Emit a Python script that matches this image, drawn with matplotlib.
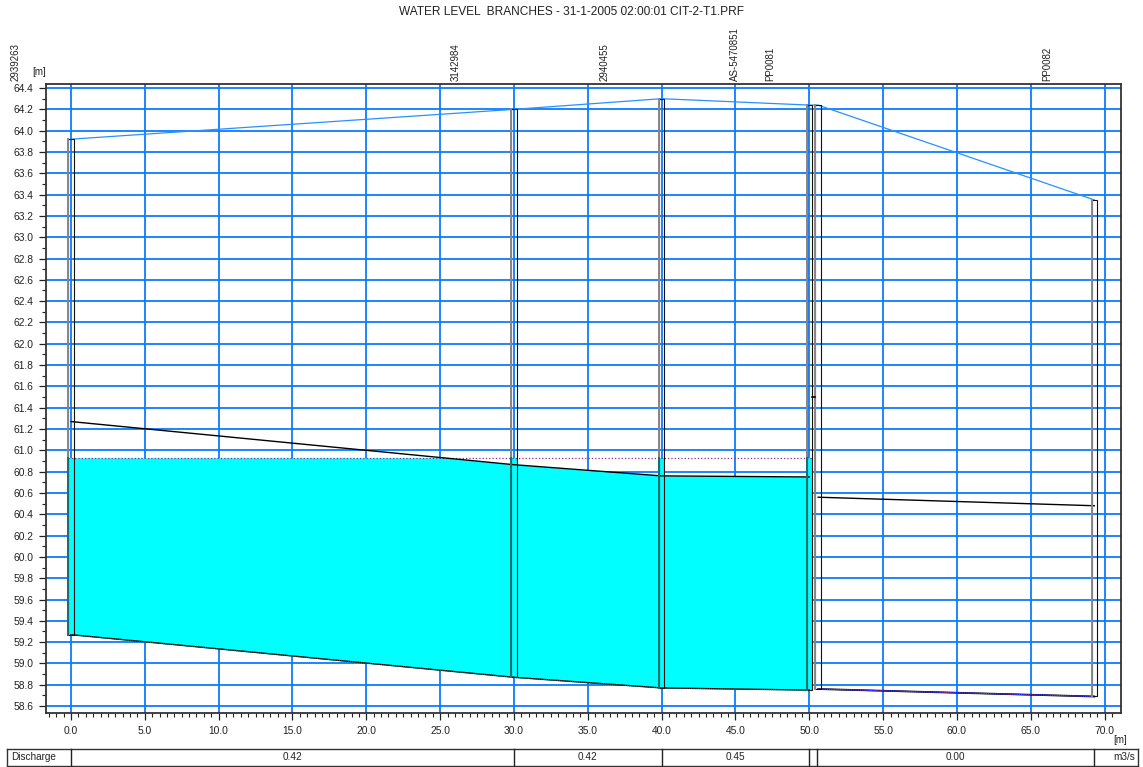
import matplotlib
matplotlib.use("Agg")
import matplotlib.pyplot as plt
import matplotlib.transforms as mtransforms
from matplotlib.patches import Rectangle
import numpy as np

plt.rcParams['font.family'] = ['Liberation Sans', 'DejaVu Sans']

# ---- data ----
title = "WATER LEVEL  BRANCHES - 31-1-2005 02:00:01 CIT-2-T1.PRF"

# left branch (wet)
st_left = [0.0, 30.0, 40.0, 50.0]
bed_left = [59.27, 58.87, 58.77, 58.75]
bank_left = [61.27, 60.865, 60.76, 60.75]
wl_left = 60.93

# right branch (dry)
st_right = [50.6, 69.3]
bed_right = [58.76, 58.69]
bank_right = [60.56, 60.48]

# structure boxes (station, bottom, top)
box_st = [0.0, 30.0, 40.0, 50.0, 50.6, 69.3]
box_bot = [59.27, 58.87, 58.77, 58.75, 58.76, 58.69]
box_top = [63.92, 64.20, 64.30, 64.24, 64.24, 63.35]
box_wet = [True, True, True, True, False, False]

crest_st = 50.3
crest_lvl = 61.5

# names printed on top
name_labels = ["2939263", "3142984", "2940455", "AS-5470851", "PP0081", "PP0082"]
name_chain = [-3.72, 26.07, 36.16, 44.97, 47.34, 66.1]

# discharge table
q_bounds = [0.0, 30.0, 40.0, 50.0, 50.55, 69.3]
q_text = ["0.42", "0.42", "0.45", "", "0.00"]

box_w = 0.36
grid_c = '#0a7cff'

fig = plt.figure(figsize=(11.43, 7.67), dpi=100)
ax = fig.add_axes([0.040, 0.070, 0.9405, 0.8205])

ax.set_xlim(-1.71, 71.09)
ax.set_ylim(58.532, 64.438)

ax.set_xticks(np.arange(0, 70.1, 5))
ax.set_xticklabels(["%.1f" % v for v in np.arange(0, 70.1, 5)])
ax.set_xticks(np.arange(-1.5, 71.0, 0.5), minor=True)
ax.set_yticks(np.arange(58.6, 64.41, 0.2))
ax.set_yticklabels(["%.1f" % v for v in np.arange(58.6, 64.41, 0.2)])
ax.set_yticks(np.arange(58.6, 64.41, 0.1), minor=True)
ax.tick_params(which='major', length=5, width=0.9, labelsize=7.4, pad=4, colors='#222')
ax.tick_params(which='minor', length=3, width=0.8, colors='#222')
ax.grid(True, which='major', color=grid_c, lw=1.3, zorder=0)
ax.set_axisbelow(True)
for s in ax.spines.values():
    s.set_color('#333')
    s.set_linewidth(1.3)

# water body (left branch)
xd = np.linspace(st_left[0], st_left[-1], 1001)
bed_i = np.interp(xd, st_left, bed_left)
top_i = np.minimum(np.interp(xd, st_left, bank_left), wl_left)
ax.fill_between(xd, bed_i, top_i, color='#00ffff', lw=0, zorder=2)
for s, b, w in zip(box_st, box_bot, box_wet):
    if w:
        ax.add_patch(Rectangle((s - box_w / 2, b), box_w, wl_left - b,
                               facecolor='#00ffff', edgecolor='none', zorder=2))

# water level line
ax.plot([st_left[0] - box_w / 2, st_left[-1] + box_w / 2], [wl_left, wl_left],
        color='#8a2a8a', lw=0.9, ls=':', zorder=4)

# bed and bank lines
ax.plot(st_left, bed_left, color='black', lw=1.0, zorder=4)
ax.plot(st_left, bed_left, color='#2a8a6a', lw=0.6, ls=':', zorder=5)
ax.plot(st_left, bank_left, color='black', lw=1.0, zorder=4)
ax.plot(st_right, bed_right, color='black', lw=1.3, zorder=4)
ax.plot(st_right, bed_right, color='#1020ff', lw=0.8, zorder=5)
ax.plot(st_right, bed_right, color='#d04040', lw=0.6, ls=':', zorder=6)
ax.plot(st_right, bank_right, color='black', lw=1.0, zorder=4)

# top of boxes line
ax.plot(box_st, box_top, color='#2a90ff', lw=0.9, zorder=4)

# structure boxes
for s, b, t, w in zip(box_st, box_bot, box_top, box_wet):
    ax.add_patch(Rectangle((s - box_w / 2, b), box_w, t - b, facecolor='none',
                           edgecolor='#111', lw=0.8, zorder=6))
    ax.plot([s - box_w / 2, s - box_w / 2], [b, t], color='#888', lw=1.4, zorder=6)
    if w:
        ax.plot([s - box_w / 2, s - box_w / 2], [b, wl_left], color='#1c6e6e',
                lw=1.4, zorder=7)

ax.plot([crest_st - 0.1, crest_st + 0.1], [crest_lvl, crest_lvl], color='black', lw=1.2, zorder=7)

# labels on top
trans_top = mtransforms.blended_transform_factory(ax.transData, ax.transAxes)
for name, c in zip(name_labels, name_chain):
    ax.text(c, 1.005, name, rotation=90, ha='center', va='bottom', fontsize=7,
            transform=trans_top, clip_on=False, color='#222')

fig.text(0.5, 0.985, title, ha='center', va='center', fontsize=8.6, color='#222')
fig.text(39 / 1143, 1 - 72 / 767, "[m]", ha='center', va='center', fontsize=7, color='#222')
fig.text(1120 / 1143, 1 - 740 / 767, "[m]", ha='center', va='center', fontsize=7, color='#222')

# discharge table
tb = mtransforms.blended_transform_factory(ax.transData, fig.transFigure)
tba = mtransforms.blended_transform_factory(ax.transAxes, fig.transFigure)
y_top, y_bot = 1 - 749 / 767, 0.0015
xl, xr = (7 - 45.7) / 1075, (1138 - 45.7) / 1075
for yy in (y_top, y_bot):
    ax.plot([xl, xr], [yy, yy], color='#333', lw=1.0, transform=tba, clip_on=False)
for xx in (xl, xr):
    ax.plot([xx, xx], [y_bot, y_top], color='#333', lw=1.0, transform=tba, clip_on=False)
for b in q_bounds:
    ax.plot([b, b], [y_bot, y_top], color='#222', lw=1.0, transform=tb, clip_on=False)
for i, t in enumerate(q_text):
    ax.text((q_bounds[i] + q_bounds[i + 1]) / 2, (y_top + y_bot) / 2, t,
            ha='center', va='center', fontsize=7.2, transform=tb, color='#222')
ax.text(xl + 0.004, (y_top + y_bot) / 2, "Discharge", ha='left', va='center',
        fontsize=7.2, transform=tba, color='#222')
ax.text(xr - 0.003, (y_top + y_bot) / 2, "m3/s", ha='right', va='center',
        fontsize=7.2, transform=tba, color='#222')

fig.savefig("out.png", dpi=100)
